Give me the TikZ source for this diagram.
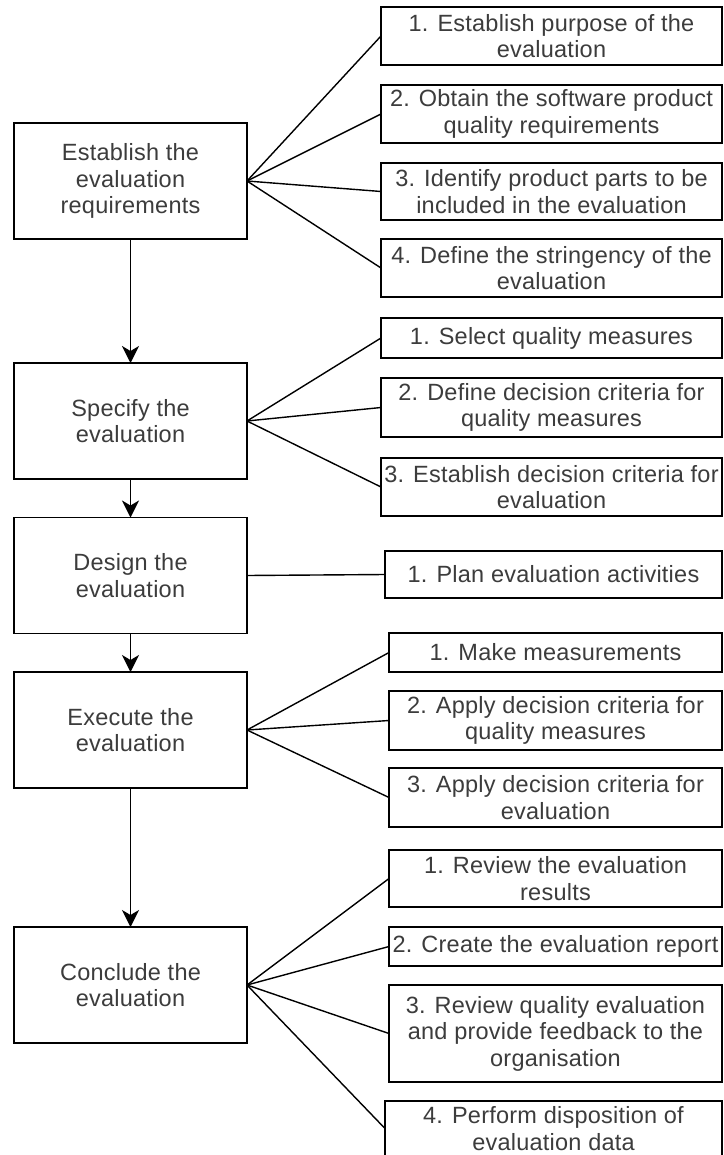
\documentclass[tikz,border=0pt]{standalone}
\usepackage{fontspec}
\setmainfont{Liberation Sans}[LetterSpace=1]
\usetikzlibrary{arrows.meta}
\definecolor{txt}{RGB}{60,60,60}
\begin{document}
\begin{tikzpicture}[x=1pt,y=-1pt,
  every node/.style={inner sep=0pt,outer sep=0pt},
  box/.style={draw=black,line width=1.5pt,fill=white,rectangle,align=center,
    text=txt,font=\fontsize{23.5}{26.5}\selectfont},
  phase/.style={box,minimum width=233pt,minimum height=116pt},
  link/.style={draw=black,line width=1.4pt},
  flow/.style={draw=black,line width=1.5pt,-{Stealth[length=17pt,width=17pt,inset=5pt]}}]
\useasboundingbox (0,0) rectangle (723,1155);
\begin{scope}
\clip (0,0) rectangle (723,1155);

% main phases
\node[phase] (p1) at (130.5,181) {Establish the\\evaluation\\requirements};
\node[phase] (p2) at (130.5,421) {Specify the\\evaluation};
\node[phase] (p3) at (130.5,575.5) {Design the\\evaluation};
\node[phase] (p4) at (130.5,730) {Execute the\\evaluation};
\node[phase] (p5) at (130.5,985) {Conclude the\\evaluation};

% activities of phase 1
\node[box,minimum width=341pt,minimum height=58pt] (a1) at (551.5,36) {1. Establish purpose of the\\evaluation};
\node[box,minimum width=341pt,minimum height=58pt] (a2) at (551.5,114) {2. Obtain the software product\\quality requirements};
\node[box,minimum width=341pt,minimum height=57pt] (a3) at (551.5,191.5) {3. Identify product parts to be\\included in the evaluation};
\node[box,minimum width=341pt,minimum height=58pt] (a4) at (551.5,268) {4. Define the stringency of the\\evaluation};

% activities of phase 2
\node[box,minimum width=341pt,minimum height=40pt] (b1) at (551.5,338) {1. Select quality measures};
\node[box,minimum width=341pt,minimum height=59pt] (b2) at (551.5,407.5) {2. Define decision criteria for\\quality measures};
\node[box,minimum width=341pt,minimum height=58pt] (b3) at (551.5,487) {3. Establish decision criteria for\\evaluation};

% activity of phase 3
\node[box,minimum width=337pt,minimum height=47pt] (c1) at (553.5,574.5) {1. Plan evaluation activities};

% activities of phase 4
\node[box,minimum width=333pt,minimum height=39pt] (d1) at (555.5,652.5) {1. Make measurements};
\node[box,minimum width=333pt,minimum height=59pt] (d2) at (555.5,720.5) {2. Apply decision criteria for\\quality measures};
\node[box,minimum width=333pt,minimum height=59pt] (d3) at (555.5,797.5) {3. Apply decision criteria for\\evaluation};

% activities of phase 5
\node[box,minimum width=333pt,minimum height=57pt] (e1) at (555.5,878.5) {1. Review the evaluation\\results};
\node[box,minimum width=333pt,minimum height=39pt] (e2) at (555.5,946.5) {2. Create the evaluation report};
\node[box,minimum width=333pt,minimum height=97pt] (e3) at (555.5,1033.5) {3. Review quality evaluation\\and provide feedback to the\\organisation};
\node[box,minimum width=337pt,minimum height=55pt] (e4) at (553.5,1128.5) {4. Perform disposition of\\evaluation data};

% phase sequence
\draw[flow] (p1.south) -- (p2.north);
\draw[flow] (p2.south) -- (p3.north);
\draw[flow] (p3.south) -- (p4.north);
\draw[flow] (p4.south) -- (p5.north);

% phase to activity links
\foreach \t in {a1,a2,a3,a4} \draw[link] (p1.east) -- (\t.west);
\foreach \t in {b1,b2,b3} \draw[link] (p2.east) -- (\t.west);
\draw[link] (p3.east) -- (c1.west);
\foreach \t in {d1,d2,d3} \draw[link] (p4.east) -- (\t.west);
\foreach \t in {e1,e2,e3,e4} \draw[link] (p5.east) -- (\t.west);
\end{scope}
\end{tikzpicture}
\end{document}
